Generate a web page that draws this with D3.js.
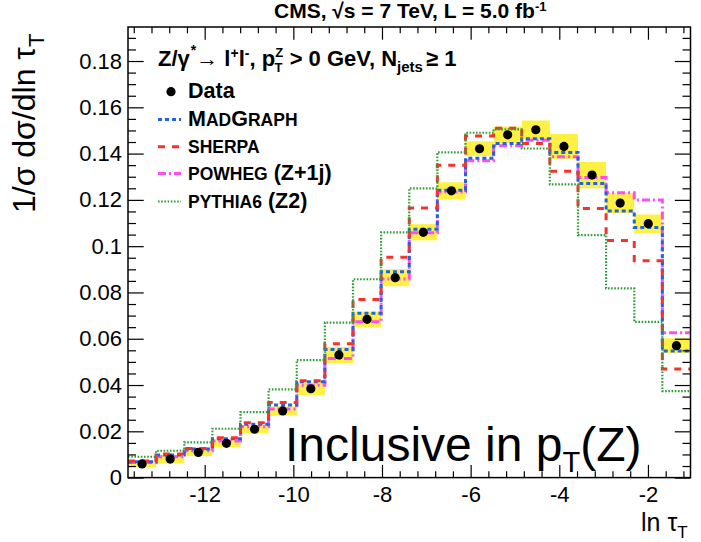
<!DOCTYPE html>
<html><head><meta charset="utf-8">
<script src="https://cdn.jsdelivr.net/npm/d3@7"></script>
<style>
body{margin:0;background:#fff}
svg{display:block}
text{font-family:"Liberation Sans",Arial,Helvetica,sans-serif;fill:#000}
</style>
</head><body>
<svg id="c" width="701" height="542"></svg>
<script>
// ---- data ----
const binEdges = [-13.73,-13.096,-12.461,-11.827,-11.192,-10.558,-9.923,-9.289,-8.654,-8.020,-7.385,-6.751,-6.116,-5.482,-4.847,-4.213,-3.578,-2.944,-2.309,-1.675,-1.04];
const dataVals = [0.0059,0.0080,0.0109,0.0148,0.0209,0.0288,0.0384,0.0530,0.0684,0.0864,0.1060,0.1239,0.1421,0.1481,0.1503,0.1431,0.1307,0.1186,0.1097,0.0570];
const dataErr  = [0.0014,0.0019,0.0016,0.0016,0.0018,0.0020,0.0027,0.0035,0.0033,0.0037,0.0035,0.0037,0.0032,0.0036,0.0040,0.0054,0.0057,0.0043,0.0040,0.0032];
const madgraph = [0.0068,0.0098,0.0124,0.0168,0.0231,0.0314,0.0414,0.0554,0.0710,0.0889,0.1073,0.1242,0.1380,0.1444,0.1464,0.1405,0.1271,0.1152,0.1081,0.0547];
const sherpa   = [0.0072,0.0102,0.0126,0.0172,0.0237,0.0324,0.0419,0.0578,0.0770,0.0952,0.1165,0.1350,0.1476,0.1510,0.1444,0.1324,0.1163,0.1025,0.0937,0.0469];
const powheg   = [0.0065,0.0090,0.0116,0.0158,0.0220,0.0296,0.0399,0.0515,0.0673,0.0858,0.1058,0.1234,0.1369,0.1434,0.1458,0.1386,0.1297,0.1231,0.1200,0.0626];
const pythia   = [0.0090,0.0116,0.0152,0.0211,0.0283,0.0381,0.0508,0.0670,0.0857,0.1060,0.1250,0.1405,0.1490,0.1505,0.1422,0.1267,0.1048,0.0818,0.0673,0.0374];
const xTicks = [-12,-10,-8,-6,-4,-2];
const yTicks = [0,0.02,0.04,0.06,0.08,0.1,0.12,0.14,0.16,0.18];
const yMax = 0.1947;

const FONT = '"Liberation Sans",Arial,Helvetica,sans-serif';
const svg = d3.select('#c');
const L=128, R=690.5, T=27, B=477.6;
const x = d3.scaleLinear().domain([binEdges[0], binEdges[binEdges.length-1]]).range([L,R]);
const y = d3.scaleLinear().domain([0, yMax]).range([B,T]);

// ---- title ----
const title = svg.append('text').attr('x',274).attr('y',18)
  .style('font-size','21px').style('font-weight','bold');
title.append('tspan').text('CMS, √s = 7 TeV, L = 5.0 fb');
title.append('tspan').attr('dy',-7).style('font-size','13px').text('-1');

// ---- uncertainty band ----
const bins = dataVals.map((v,i)=>({i, v, e:dataErr[i], x0:binEdges[i], x1:binEdges[i+1]}));
svg.append('g').selectAll('rect').data(bins).join('rect')
  .attr('x',d=>x(d.x0)).attr('width',d=>x(d.x1)-x(d.x0))
  .attr('y',d=>y(d.v+d.e)).attr('height',d=>y(d.v-d.e)-y(d.v+d.e))
  .attr('fill','#fff143');

// ---- step histograms ----
function stepPts(vals){
  const p=[];
  vals.forEach((v,i)=>{p.push([binEdges[i],v]);p.push([binEdges[i+1],v]);});
  return p;
}
const line = d3.line().x(d=>x(d[0])).y(d=>y(d[1]));
const series = [
  {name:'powheg', vals:powheg, color:'#ff4cf5', dash:'8,3,2,3', w:3},
  {name:'madgraph', vals:madgraph, color:'#1f63e6', dash:'4,3', w:3},
  {name:'sherpa', vals:sherpa, color:'#f8312c', dash:'7,7', w:3},
  {name:'pythia', vals:pythia, color:'#2f9e34', dash:'1.6,1.6', w:2.2}
];
svg.append('g').selectAll('path').data(series).join('path')
  .attr('d',d=>line(stepPts(d.vals)))
  .attr('fill','none').attr('stroke',d=>d.color).attr('stroke-width',d=>d.w)
  .attr('stroke-dasharray',d=>d.dash);

// ---- data points ----
svg.append('g').selectAll('circle').data(bins).join('circle')
  .attr('cx',d=>x((d.x0+d.x1)/2)).attr('cy',d=>y(d.v)).attr('r',4.6).attr('fill','#000');

// ---- axes ----
const xMinor = d3.range(-13.6,-1.0,0.4).filter(v=>!xTicks.some(t=>Math.abs(t-v)<1e-6));
const yMinor = d3.range(0,yMax,0.005).filter(v=>!yTicks.some(t=>Math.abs(t-v)<1e-6));
const fmtY = d=> d===0 ? '0' : String(+d.toFixed(2));

function styleAxis(g){ g.select('.domain').remove(); g.selectAll('line').attr('stroke','#000').attr('stroke-width',1.2); g.selectAll('text').style('font-family',FONT).style('font-size','22px').attr('fill','#000'); }

svg.append('g').attr('transform',`translate(0,${B})`)
  .call(d3.axisBottom(x).tickValues(xTicks).tickSize(-12.7).tickPadding(9).tickFormat(d=>d)).call(styleAxis);
svg.append('g').attr('transform',`translate(0,${B})`)
  .call(d3.axisBottom(x).tickValues(xMinor).tickSize(-6.3).tickFormat('')).call(styleAxis);
svg.append('g').attr('transform',`translate(0,${T})`)
  .call(d3.axisTop(x).tickValues(xTicks).tickSize(-12.7).tickFormat('')).call(styleAxis);
svg.append('g').attr('transform',`translate(0,${T})`)
  .call(d3.axisTop(x).tickValues(xMinor).tickSize(-6.3).tickFormat('')).call(styleAxis);

svg.append('g').attr('transform',`translate(${L},0)`)
  .call(d3.axisLeft(y).tickValues(yTicks).tickSize(-15.7).tickPadding(6).tickFormat(fmtY)).call(styleAxis);
svg.append('g').attr('transform',`translate(${L},0)`)
  .call(d3.axisLeft(y).tickValues(yMinor).tickSize(-8).tickFormat('')).call(styleAxis);
svg.append('g').attr('transform',`translate(${R},0)`)
  .call(d3.axisRight(y).tickValues(yTicks).tickSize(-15.7).tickFormat('')).call(styleAxis);
svg.append('g').attr('transform',`translate(${R},0)`)
  .call(d3.axisRight(y).tickValues(yMinor).tickSize(-8).tickFormat('')).call(styleAxis);

svg.append('rect').attr('x',L).attr('y',T).attr('width',R-L).attr('height',B-T)
  .attr('fill','none').attr('stroke','#000').attr('stroke-width',1.5);

// ---- axis titles ----
const xt = svg.append('text').attr('x',641).attr('y',531).style('font-size','25px');
xt.append('tspan').text('ln τ');
xt.append('tspan').attr('dy',7).style('font-size','17px').text('T');

const yt = svg.append('text').attr('transform','translate(35,213) rotate(-90)').style('font-size','32px');
yt.append('tspan').text('1/σ dσ/dln τ');
yt.append('tspan').attr('dy',9).style('font-size','22px').text('T');

// ---- legend header ----
const hd = svg.append('text').attr('x',158).attr('y',66).style('font-size','22px').style('font-weight','bold');
hd.append('tspan').text('Z/γ');
hd.append('tspan').attr('dy',-11).attr('dx',1).style('font-size','14px').text('*');
hd.append('tspan').attr('dy',11).text('→ l');
hd.append('tspan').attr('dy',-8).style('font-size','14px').text('+');
hd.append('tspan').attr('dy',8).text('l');
hd.append('tspan').attr('dy',-8).style('font-size','14px').text('-');
hd.append('tspan').attr('dy',8).text(', p');
hd.append('tspan').attr('dy',-9.5).style('font-size','13px').text('Z');
hd.append('tspan').attr('dy',15.5).attr('dx',-8.5).style('font-size','13px').text('T');
hd.append('tspan').attr('dy',-6).attr('dx',1).text(' > 0 GeV, N');
hd.append('tspan').attr('dy',6).style('font-size','15px').text('jets');
hd.append('tspan').attr('dy',-6).attr('dx',3).text('≥ 1');

// ---- legend entries ----
const legendRows = [
  {key:'data', y:98.3},
  {key:'madgraph', y:126, parts:[['M',21.5],['AD',17.5],['G',21.5],['RAPH',17.5]]},
  {key:'sherpa', y:153.3, parts:[['SHERPA',17.5]]},
  {key:'powheg', y:180, parts:[['POWHEG',17.5],[' (Z+1j)',21.5]]},
  {key:'pythia', y:208, parts:[['PYTHIA6',17.5],[' (Z2)',21.5]]}
];
const lg = svg.append('g');
lg.append('circle').attr('cx',171).attr('cy',91.7).attr('r',4.6).attr('fill','#000');
lg.append('text').attr('x',188).attr('y',98.3).style('font-size','21.5px').style('font-weight','bold').text('Data');
legendRows.slice(1).forEach(r=>{
  const s = series.find(d=>d.name===r.key);
  lg.append('line').attr('x1',158).attr('x2',181).attr('y1',r.y-6.5).attr('y2',r.y-6.5)
    .attr('stroke',s.color).attr('stroke-width',s.w).attr('stroke-dasharray',s.dash);
  const t = lg.append('text').attr('x',188).attr('y',r.y).style('font-weight','bold');
  r.parts.forEach(p=>t.append('tspan').style('font-size',p[1]+'px').text(p[0]));
});

// ---- annotation ----
const an = svg.append('text').attr('x',285).attr('y',461).style('font-size','48px');
an.append('tspan').text('Inclusive in p');
an.append('tspan').attr('dy',10.5).style('font-size','29px').text('T');
an.append('tspan').attr('dy',-10.5).text('(Z)');
</script>
</body></html>
